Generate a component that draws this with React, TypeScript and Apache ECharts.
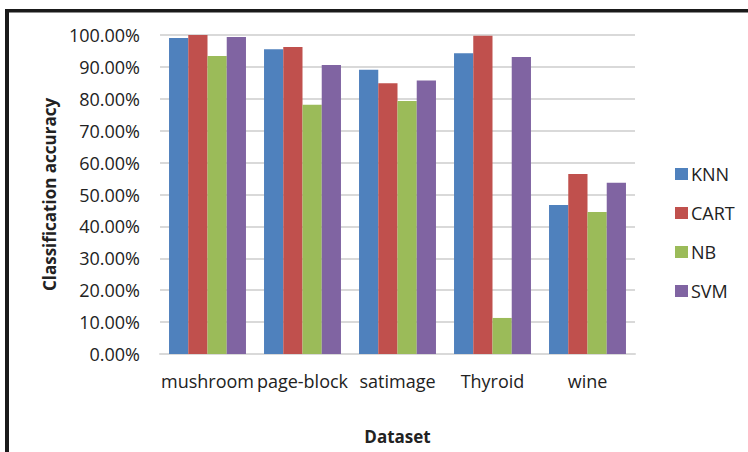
import React, { useEffect, useRef } from "react";
import * as echarts from "echarts";

const datasets = ["mushroom", "page-block", "satimage", "Thyroid", "wine"];
const methods = ["KNN", "CART", "NB", "SVM"];
const knn = [0.9906, 0.955, 0.891, 0.943, 0.467];
const cart = [1.0, 0.962, 0.849, 0.998, 0.564];
const nb = [0.934, 0.781, 0.793, 0.113, 0.445];
const svm = [0.994, 0.906, 0.857, 0.931, 0.537];
const colors = ["#4F81BD", "#C0504D", "#9BBB59", "#8064A2"];

const FONT = "'Open Sans', sans-serif";
const TEXT = "#222222";

export default function App() {
  const ref = useRef<HTMLDivElement>(null);

  useEffect(() => {
    if (!ref.current) return;
    const chart = echarts.init(ref.current, null, { renderer: "svg" });
    const values = [knn, cart, nb, svm];
    chart.setOption({
      animation: false,
      backgroundColor: "#ffffff",
      textStyle: { fontFamily: FONT, color: TEXT },
      grid: { left: 160, right: 113, top: 35, bottom: 98 },
      legend: {
        orient: "vertical",
        left: 670,
        top: 160,
        itemWidth: 13,
        itemHeight: 12,
        itemGap: 21,
        icon: "rect",
        data: methods,
        textStyle: { fontFamily: FONT, fontSize: 18, color: TEXT, padding: [0, 0, 0, -2] },
      },
      xAxis: {
        type: "category",
        data: datasets,
        name: "Dataset",
        nameLocation: "middle",
        nameGap: 74,
        nameTextStyle: { fontFamily: FONT, fontSize: 17, fontWeight: "bold", color: TEXT },
        axisLine: { lineStyle: { color: "#D9D9D9", width: 2 } },
        axisTick: { show: false },
        axisLabel: { fontFamily: FONT, fontSize: 18, color: TEXT, margin: 18, interval: 0 },
      },
      yAxis: {
        type: "value",
        min: 0,
        max: 1,
        interval: 0.1,
        name: "Classification accuracy",
        nameLocation: "middle",
        nameGap: 102,
        nameTextStyle: { fontFamily: FONT, fontSize: 17, fontWeight: "bold", color: TEXT },
        axisLine: { show: false },
        axisTick: { show: false },
        splitLine: { lineStyle: { color: "#D9D9D9", width: 2 } },
        axisLabel: {
          fontFamily: FONT,
          fontSize: 18,
          color: TEXT,
          margin: 20,
          formatter: (v: number) => (v * 100).toFixed(2) + "%",
        },
      },
      series: methods.map((m, i) => ({
        name: m,
        type: "bar",
        data: values[i],
        barGap: "0%",
        barCategoryGap: "19%",
        itemStyle: { color: colors[i] },
      })),
      graphic: [
        { type: "rect", shape: { x: 5, y: 9, width: 800, height: 3.5 }, style: { fill: "#1a1a1a" }, z: 100 },
        { type: "rect", shape: { x: 5, y: 9, width: 4, height: 500 }, style: { fill: "#1a1a1a" }, z: 100 },
      ],
    });
    return () => chart.dispose();
  }, []);

  return (
    <div
      ref={ref}
      style={{ position: "fixed", left: 0, top: 0, width: 748, height: 452 }}
    />
  );
}
